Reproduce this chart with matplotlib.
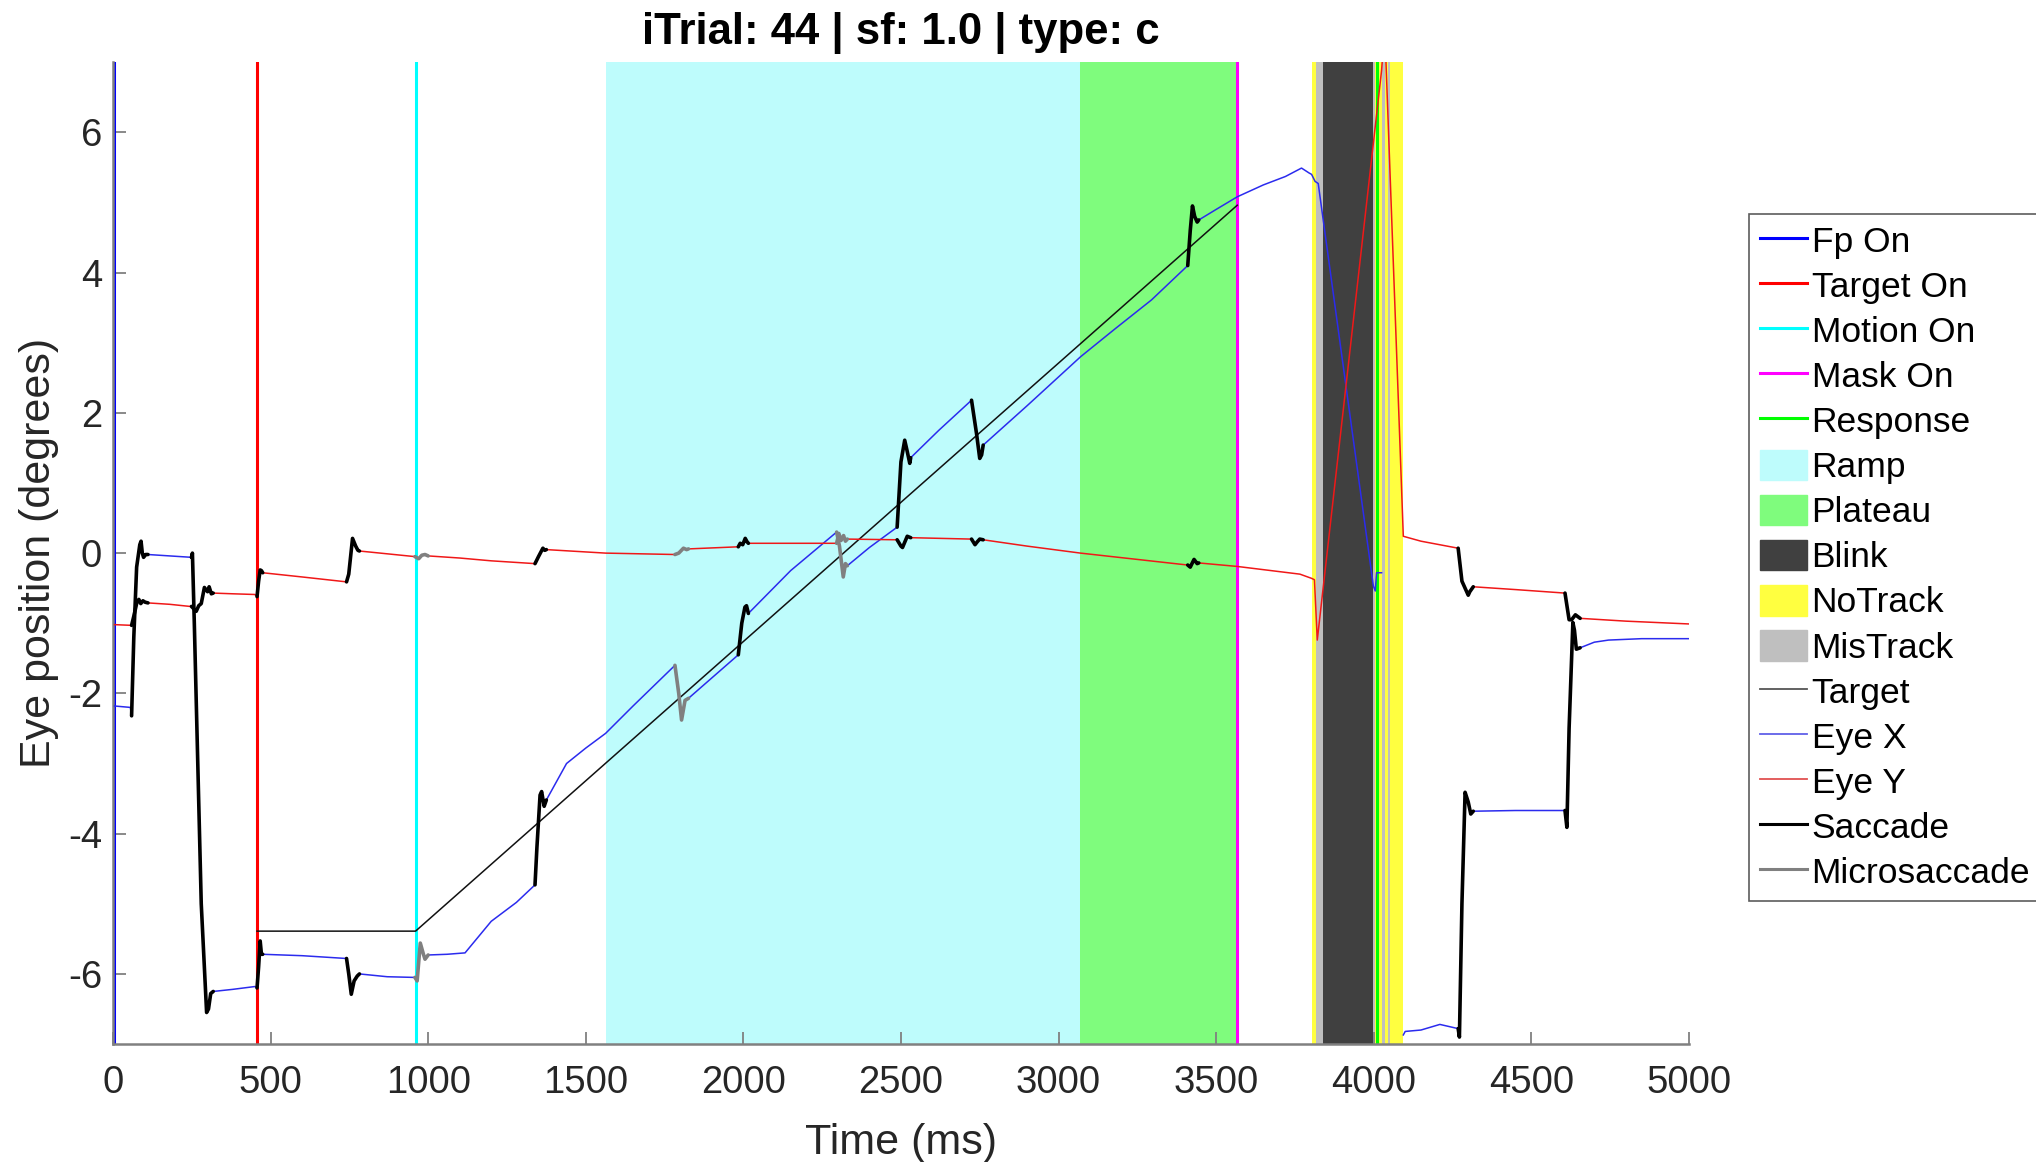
import matplotlib
matplotlib.use("Agg")
import matplotlib.pyplot as plt
import numpy as np
from matplotlib.lines import Line2D
from matplotlib.patches import Patch

plt.rcParams.update({"font.family": ["Liberation Sans", "DejaVu Sans"]})

# ---- data (ms, degrees) ----
title = "iTrial: 44 | sf: 1.0 | type: c"

fp_on, target_on, motion_on, mask_on, response = 2, 457, 960, 3567, 4010
ramp = (1563, 3068)
plateau = (3068, 3567)
blink_spans = [(3838, 3997)]
notrack_spans = [(3803, 4094)]
mistrack_spans = [(3818, 3838), (3997, 4004), (4025, 4035), (4045, 4051)]

target_t = [457, 960, 3567]
target_x = [-5.39, -5.39, 4.96]

eye_x_t = [5, 55, 59, 66, 75, 85, 89, 93, 97, 104, 111, 180, 244,
           249, 252, 258, 280, 297, 303, 310, 318, 380, 450,
           457, 462, 467, 471, 475, 600, 741,
           748, 756, 765, 775, 782, 870, 958,
           965, 975, 985, 990, 1000, 1060, 1117, 1200, 1280, 1339,
           1345, 1355, 1360, 1368, 1375, 1439, 1500, 1563, 1650, 1783,
           1795, 1804, 1815, 1826, 1900, 1984,
           1995, 2005, 2010, 2016, 2150, 2296,
           2305, 2317, 2324, 2330, 2400, 2488,
           2500, 2512, 2520, 2528, 2531, 2620, 2724,
           2740, 2750, 2756, 2761, 2900, 3070, 3180, 3295, 3410,
           3418, 3425, 3432, 3440, 3445, 3500, 3567, 3650, 3720, 3771,
           3795, 3803, 3814, 3824, 3999, 4005, 4009, 4025, 4060,
           4094, 4100, 4150, 4210, 4268,
           4272, 4280, 4290, 4300, 4308, 4316, 4450, 4607,
           4613, 4620, 4632, 4637, 4643, 4655, 4700, 4745, 4850, 5000]
eye_x = [-2.18, -2.20, -2.32, -1.2, -0.2, 0.12, 0.17, 0.0, -0.06, -0.02, -0.02, -0.04, -0.06,
         -0.06, 0.0, -1.0, -5.0, -6.55, -6.5, -6.28, -6.25, -6.22, -6.18,
         -6.2, -5.9, -5.53, -5.72, -5.72, -5.74, -5.78,
         -6.0, -6.29, -6.1, -6.03, -6.0, -6.04, -6.05,
         -6.1, -5.56, -5.72, -5.79, -5.73, -5.72, -5.70, -5.25, -4.98, -4.73,
         -4.2, -3.45, -3.40, -3.61, -3.52, -3.0, -2.78, -2.57, -2.18, -1.6,
         -2.0, -2.38, -2.1, -2.07, -1.78, -1.45,
         -1.0, -0.77, -0.75, -0.86, -0.25, 0.30,
         0.1, -0.34, -0.15, -0.18, 0.08, 0.37,
         1.3, 1.61, 1.45, 1.28, 1.36, 1.75, 2.18,
         1.7, 1.35, 1.4, 1.54, 2.1, 2.80, 3.2, 3.61, 4.10,
         4.6, 4.95, 4.8, 4.72, 4.75, 4.9, 5.08, 5.25, 5.37, 5.49,
         5.42, 5.40, 5.30, 5.27, -0.47, -0.54, -0.28, -0.28, np.nan,
         -6.87, -6.82, -6.8, -6.72, -6.78,
         -6.9, -5.0, -3.41, -3.55, -3.72, -3.68, -3.67, -3.67,
         -3.91, -2.5, -0.99, -1.1, -1.37, -1.35, -1.27, -1.24, -1.22, -1.22]

eye_y_t = [5, 59, 66, 76, 82, 88, 95, 102, 111, 180, 244,
           249, 264, 272, 280, 290, 300, 305, 312, 318, 380, 450,
           457, 462, 467, 471, 475, 600, 741,
           748, 760, 770, 777, 782, 870, 958,
           970, 980, 990, 1000, 1100, 1200, 1339,
           1350, 1364, 1370, 1375, 1563, 1783,
           1795, 1810, 1820, 1826, 1984,
           1990, 1998, 2006, 2012, 2016, 2296,
           2303, 2310, 2318, 2324, 2330, 2488,
           2500, 2505, 2520, 2531, 2724,
           2735, 2742, 2750, 2761, 2900, 3070, 3250, 3410,
           3418, 3430, 3440, 3445, 3567, 3766, 3803, 3812, 3821,
           4025, 4032, 4039, 4094, 4150, 4268,
           4280, 4300, 4305, 4316, 4450, 4607,
           4620, 4628, 4640, 4655, 4800, 5000]
eye_y = [-1.02, -1.03, -0.9, -0.70, -0.66, -0.72, -0.68, -0.70, -0.71, -0.73, -0.76,
         -0.76, -0.83, -0.75, -0.72, -0.49, -0.55, -0.48, -0.58, -0.57, -0.58, -0.59,
         -0.62, -0.4, -0.24, -0.25, -0.28, -0.34, -0.41,
         -0.3, 0.21, 0.1, 0.04, 0.03, -0.01, -0.05,
         -0.08, -0.03, -0.02, -0.04, -0.07, -0.11, -0.15,
         -0.05, 0.07, 0.04, 0.05, 0.0, -0.02,
         0.0, 0.07, 0.05, 0.06, 0.09,
         0.14, 0.12, 0.21, 0.16, 0.14, 0.14,
         0.28, 0.18, 0.25, 0.17, 0.2, 0.19,
         0.1, 0.08, 0.24, 0.22, 0.20,
         0.12, 0.16, 0.2, 0.19, 0.1, 0.0, -0.09, -0.17,
         -0.2, -0.09, -0.15, -0.14, -0.19, -0.30, -0.36, -0.38, -1.24,
         6.88, 7.3, 7.0, 0.24, 0.17, 0.07,
         -0.4, -0.60, -0.55, -0.48, -0.52, -0.57,
         -0.95, -0.95, -0.88, -0.93, -0.97, -1.01]

saccades = [(59, 111), (249, 318), (457, 475), (741, 782), (1339, 1375),
            (1984, 2016), (2488, 2531), (2724, 2761), (3410, 3445),
            (4268, 4316), (4607, 4655)]
microsaccades = [(958, 1000), (1783, 1826), (2296, 2330)]

# ---- styling ----
C_RAMP, C_PLAT, C_BLINK, C_NOTR, C_MIS = "#BEFCFC", "#7FFC7D", "#404040", "#FFFF40", "#BFBFBF"
C_EX, C_EY = "#2B2BEE", "#F01818"
AX_GRAY = "#808080"

fig = plt.figure(figsize=(20.36, 11.62), dpi=100)
ax = fig.add_axes([0.0555, 0.1015, 0.774, 0.845])

ax.axvspan(*ramp, color=C_RAMP, lw=0, zorder=0)
ax.axvspan(*plateau, color=C_PLAT, lw=0, zorder=0)
for s, e in notrack_spans:
    ax.axvspan(s, e, color=C_NOTR, lw=0, zorder=0)
for s, e in mistrack_spans:
    ax.axvspan(s, e, color=C_MIS, lw=0, zorder=0.5)
for s, e in blink_spans:
    ax.axvspan(s, e, color=C_BLINK, lw=0, zorder=1)

for x, c in [(fp_on, "#0000FF"), (target_on, "#FF0000"), (motion_on, "#00FFFF"),
             (mask_on, "#FF00FF"), (response, "#00FF00")]:
    ax.axvline(x, color=c, lw=2.2, zorder=2)

ax.plot(target_t, target_x, color="#111111", lw=1.1, zorder=3)
ex_t, ex = np.array(eye_x_t), np.array(eye_x)
ey_t, ey = np.array(eye_y_t), np.array(eye_y)
ax.plot(ex_t, ex, color=C_EX, lw=1.1, zorder=4)
ax.plot(ey_t, ey, color=C_EY, lw=1.1, zorder=4)

# saccades / microsaccades: thick overlay on the eye traces inside each window
for spans, col in [(saccades, "black"), (microsaccades, "#808080")]:
    for s, e in spans:
        for t, v in [(ex_t, ex), (ey_t, ey)]:
            m = (t >= s) & (t <= e)
            ax.plot(t[m], v[m], color=col, lw=2.6, zorder=5, solid_capstyle="round")

ax.set_xlim(0, 5000)
ax.set_ylim(-7, 7)
ax.set_xticks(np.arange(0, 5001, 500))
ax.set_yticks(np.arange(-6, 7, 2))
ax.set_yticklabels([str(v) for v in range(-6, 7, 2)])
for s in ("top", "right"):
    ax.spines[s].set_visible(False)
for s in ("left", "bottom"):
    ax.spines[s].set_color(AX_GRAY)
    ax.spines[s].set_linewidth(1.8)
ax.tick_params(direction="in", length=9, width=1.3, color=AX_GRAY,
               labelsize=27.5, labelcolor="#262626")
ax.tick_params(axis="x", pad=15)
ax.tick_params(axis="y", pad=8)
ax.set_xlabel("Time (ms)", fontsize=31, color="#262626", labelpad=16)
ax.set_ylabel("Eye position (degrees)", fontsize=31, color="#262626", labelpad=6)
ax.set_title(title, fontsize=31.5, fontweight="bold", pad=13)

handles = [
    Line2D([], [], color="#0000FF", lw=2.2), Line2D([], [], color="#FF0000", lw=2.2),
    Line2D([], [], color="#00FFFF", lw=2.2), Line2D([], [], color="#FF00FF", lw=2.2),
    Line2D([], [], color="#00FF00", lw=2.2),
    Patch(color=C_RAMP), Patch(color=C_PLAT), Patch(color=C_BLINK),
    Patch(color=C_NOTR), Patch(color=C_MIS),
    Line2D([], [], color="#555555", lw=1.3), Line2D([], [], color="#6060E8", lw=1.3),
    Line2D([], [], color="#E05050", lw=1.3), Line2D([], [], color="black", lw=2.2),
    Line2D([], [], color="#808080", lw=2.2),
]
labels = ["Fp On", "Target On", "Motion On", "Mask On", "Response", "Ramp", "Plateau",
          "Blink", "NoTrack", "MisTrack", "Target", "Eye X", "Eye Y", "Saccade",
          "Microsaccade"]
leg = fig.legend(handles, labels, loc="upper left", bbox_to_anchor=(0.859, 0.816),
                 fontsize=25.5, frameon=True, fancybox=False, edgecolor="#333333",
                 handlelength=1.35, handleheight=0.95, handletextpad=0.12,
                 labelspacing=0.30, borderpad=0.3, borderaxespad=0)
leg.get_frame().set_linewidth(1.2)

fig.savefig("out.png", dpi=100)
